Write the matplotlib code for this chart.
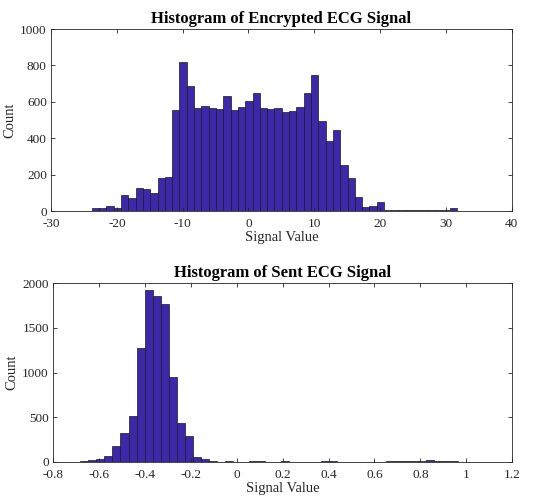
import numpy as np
import matplotlib
matplotlib.use("Agg")
import matplotlib.pyplot as plt

plt.rcParams["font.family"] = ["Liberation Serif", "DejaVu Serif"]

# encrypted signal: 50 bins from -23.8, width ~1.11
enc_start = -23.8
enc_width = 1.11
enc_counts = [15, 15, 27, 17, 88, 71, 126, 119, 100, 181,
              186, 554, 820, 687, 568, 578, 565, 563, 634, 556,
              574, 607, 647, 568, 559, 568, 545, 547, 574, 647,
              748, 492, 382, 446, 254, 179, 77, 24, 29, 48,
              4, 5, 5, 5, 5, 5, 5, 8, 8, 18]

# sent signal: 50 bins from -0.681, width 0.035
sent_start = -0.681
sent_width = 0.035
sent_counts = [7, 18, 29, 69, 175, 320, 516, 1276, 1920, 1858,
               1767, 953, 433, 291, 51, 33, 10, 5, 8, 5,
               4, 6, 8, 4, 5, 6, 4, 3, 3, 5,
               7, 6, 5, 5, 4, 3, 4, 5, 6, 10,
               14, 8, 10, 20, 15, 14, 8, 4, 3, 3]

bar_color = "#3c28a8"
ax_color = "#262626"

fig = plt.figure(figsize=(5.39, 5.0), dpi=100)
ax1 = fig.add_axes([0.0946, 0.578, 0.855, 0.364])
ax2 = fig.add_axes([0.0983, 0.076, 0.852, 0.358])


def draw(ax, start, width, counts, title, xlim, ylim, xticks, yticks):
    edges = start + width * np.arange(len(counts) + 1)
    ax.hist(edges[:-1], bins=edges, weights=counts,
            color=bar_color, edgecolor="#1a1a1a", linewidth=0.5)
    ax.set_xlim(*xlim)
    ax.set_ylim(*ylim)
    ax.set_xticks(xticks)
    ax.set_yticks(yticks)
    ax.set_xticklabels([f"{t:g}" for t in xticks])
    ax.set_title(title, fontsize=12, fontweight="bold", pad=4)
    ax.set_xlabel("Signal Value", fontsize=10.5, labelpad=1, color=ax_color)
    ax.set_ylabel("Count", fontsize=10.5, labelpad=3, color=ax_color)
    ax.tick_params(direction="in", top=True, right=True, length=3,
                   width=0.6, labelsize=9.5, colors=ax_color)
    ax.tick_params(axis="x", pad=5)
    ax.tick_params(axis="y", pad=3)
    for s in ax.spines.values():
        s.set_color(ax_color)
        s.set_linewidth(0.6)


draw(ax1, enc_start, enc_width, enc_counts, "Histogram of Encrypted ECG Signal",
     (-30, 40), (0, 1000), [-30, -20, -10, 0, 10, 20, 30, 40],
     [0, 200, 400, 600, 800, 1000])
draw(ax2, sent_start, sent_width, sent_counts, "Histogram of Sent ECG Signal",
     (-0.8, 1.2), (0, 2000), [-0.8, -0.6, -0.4, -0.2, 0, 0.2, 0.4, 0.6, 0.8, 1, 1.2],
     [0, 500, 1000, 1500, 2000])

fig.savefig("out.png", dpi=100)
plt.close(fig)
